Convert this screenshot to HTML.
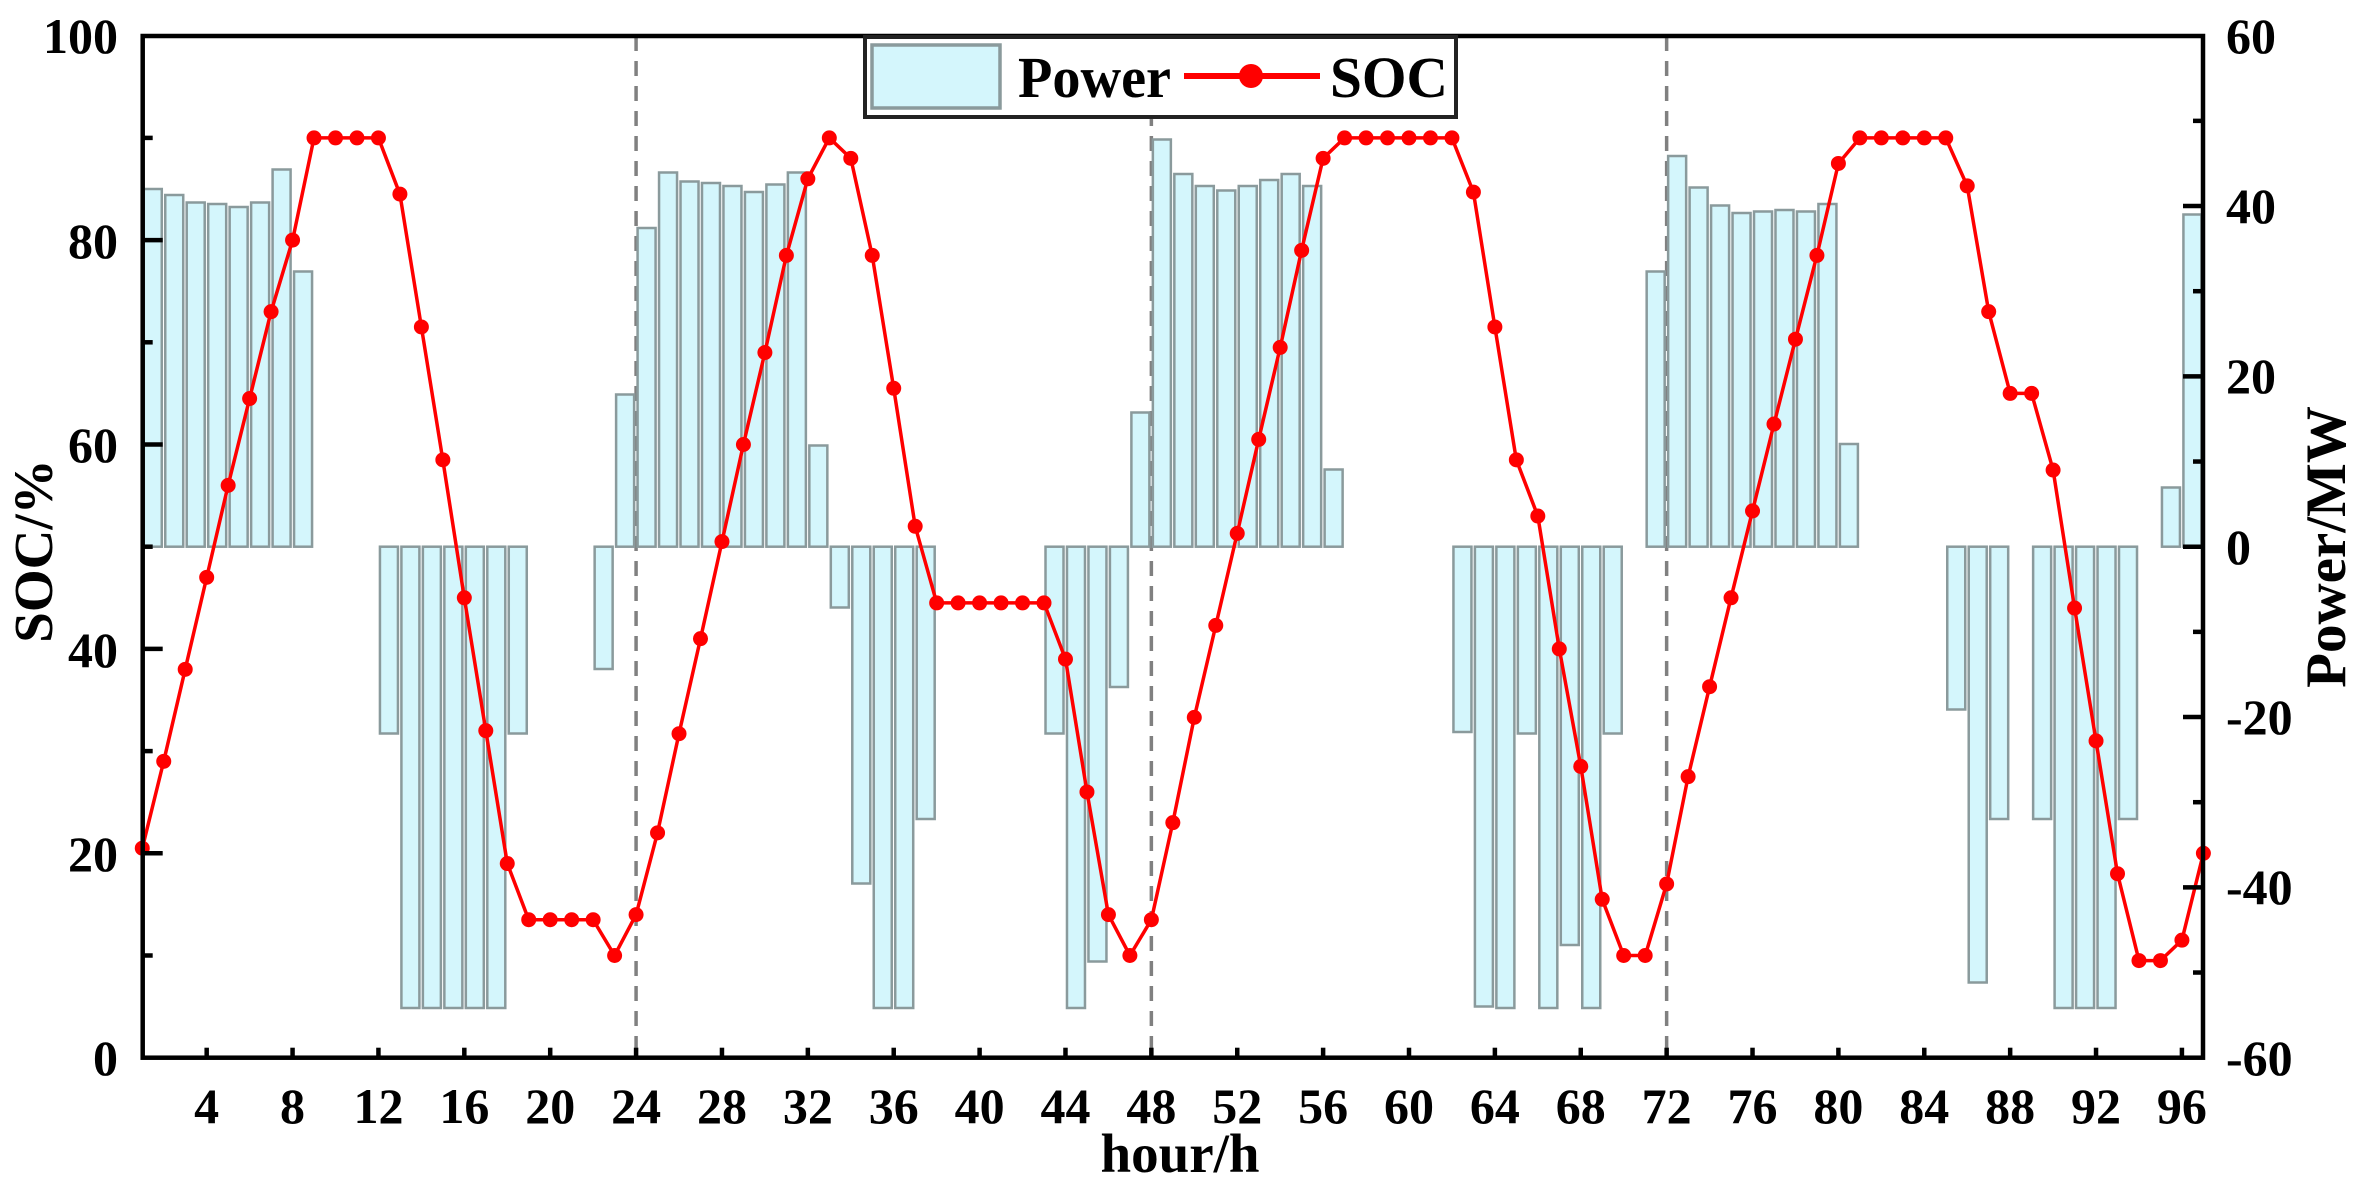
<!DOCTYPE html>
<html><head><meta charset="utf-8"><style>
html,body{margin:0;padding:0;background:#fff;}
svg{display:block;}
text{font-family:"Liberation Serif",serif;font-weight:bold;fill:#000;}
</style></head><body>
<svg id="s" width="2354" height="1181" viewBox="0 0 2354 1181" xmlns="http://www.w3.org/2000/svg">
<rect width="2354" height="1181" fill="#fff"/>
<g id="dash" stroke="#808080" stroke-width="3.5" stroke-dasharray="15,10"></g>
<g id="bars" fill="#d4f6fc" stroke="#8a9a9c" stroke-width="2.5"></g>
<g id="soc"></g>
<g id="axes" stroke="#000" stroke-width="4.5" fill="none"></g>
<!-- legend -->
<rect x="865" y="37" width="591" height="80" fill="#fff" stroke="#222" stroke-width="4"/>
<rect x="872" y="45" width="128" height="63" fill="#d4f6fc" stroke="#8a9a9c" stroke-width="3.5"/>
<text x="1018" y="97" font-size="58" textLength="153" lengthAdjust="spacingAndGlyphs">Power</text>
<line x1="1184" y1="76" x2="1320" y2="76" stroke="#f00" stroke-width="6"/>
<circle cx="1251" cy="76" r="12" fill="#f00"/>
<text x="1330" y="97" font-size="58" textLength="118" lengthAdjust="spacingAndGlyphs">SOC</text>
<!-- left labels -->
<g font-size="50" text-anchor="end">
<text x="118" y="1075">0</text>
<text x="118" y="871">20</text>
<text x="118" y="667">40</text>
<text x="118" y="462">60</text>
<text x="118" y="258">80</text>
<text x="118" y="53">100</text>
</g>
<g font-size="50" text-anchor="start">
<text x="2226" y="1075">-60</text>
<text x="2226" y="904">-40</text>
<text x="2226" y="734">-20</text>
<text x="2226" y="564">0</text>
<text x="2226" y="393">20</text>
<text x="2226" y="223">40</text>
<text x="2226" y="53">60</text>
</g>
<g id="bl" font-size="50" text-anchor="middle"></g>
<text transform="translate(52,551) rotate(-90)" font-size="55" text-anchor="middle">SOC/%</text>
<text transform="translate(2345,547) rotate(-90)" font-size="57" text-anchor="middle">Power/MW</text>
<text x="1180" y="1172" font-size="55" text-anchor="middle">hour/h</text>
</svg>
<script>
var NS="http://www.w3.org/2000/svg";
function X(h){return 120.8+21.47*h;}
function Y(s){return 1057.7-10.22*s;}
function el(p,t,a,txt){var e=document.createElementNS(NS,t);for(var k in a)e.setAttribute(k,a[k]);if(txt!==undefined)e.textContent=txt;document.getElementById(p).appendChild(e);return e;}
(function(){
[24,48,72].forEach(function(h){el("dash","line",{x1:X(h),y1:36,x2:X(h),y2:1057});});
var B={1:126,2:130,3:135,4:136,5:138,6:135,7:113,8:181,12:489,13:672,14:672,15:672,16:672,17:672,18:489,22:446,23:263,24:152,25:115,26:121,27:122,28:124,29:128,30:123,31:115,32:297,33:405,34:589,35:672,36:672,37:546,43:489,44:672,45:641,46:458,47:275,48:93,49:116,50:124,51:127,52:124,53:120,54:116,55:124,56:313,62:488,63:671,64:672,65:489,66:672,67:630,68:672,69:489,71:181,72:104,73:125,74:137,75:142,76:141,77:140,78:141,79:136,80:296,85:473,86:655,87:546,89:546,90:672,91:672,92:672,93:546,95:325,96:143};
var base=546.7;
for(var k in B){var yv=B[k]*1.5;var xv=X(+k)+1.5;var ty=Math.min(yv,base),hh=Math.abs(yv-base);
el("bars","rect",{x:xv,y:ty,width:18,height:hh});}
var S=[20.5,29,38,47,56,64.5,73,80,90,90,90,90,84.5,71.5,58.5,45,32,19,13.5,13.5,13.5,13.5,10,14,22,31.7,41,50.5,60,69,78.5,86,90,88,78.5,65.5,52,44.5,44.5,44.5,44.5,44.5,44.5,39,26,14,10,13.5,23,33.3,42.3,51.3,60.5,69.5,79,88,90,90,90,90,90,90,84.7,71.5,58.5,53,40,28.5,15.5,10,10,17,27.5,36.3,45,53.5,62,70.3,78.5,87.5,90,90,90,90,90,85.3,73,65,65,57.5,44,31,18,9.5,9.5,11.5,20];
var pts=S.map(function(s,i){return X(i+1).toFixed(1)+","+Y(s).toFixed(1);}).join(" ");
el("soc","polyline",{points:pts,fill:"none",stroke:"#f00","stroke-width":3.5});
S.forEach(function(s,i){el("soc","circle",{cx:X(i+1),cy:Y(s),r:7.5,fill:"#f00"});});
var L=142.7,R=2203,T=36,Bt=1057.7;
el("axes","rect",{x:L,y:T,width:R-L,height:Bt-T});
for(var v=10;v<100;v+=10){var yy=Y(v);var len=(v%20==0)?20:10;
 el("axes","line",{x1:L,y1:yy,x2:L+len,y2:yy});}
for(var p=-50;p<=50;p+=10){var yy2=Y(50+p*50/60);var ln=(p%20==0)?20:10;
 el("axes","line",{x1:R,y1:yy2,x2:R-ln,y2:yy2});}
for(var h=4;h<=96;h+=4){el("axes","line",{x1:X(h),y1:Bt,x2:X(h),y2:Bt-10});el("bl","text",{x:X(h),y:1123},""+h);}
})();
</script>
</body></html>
